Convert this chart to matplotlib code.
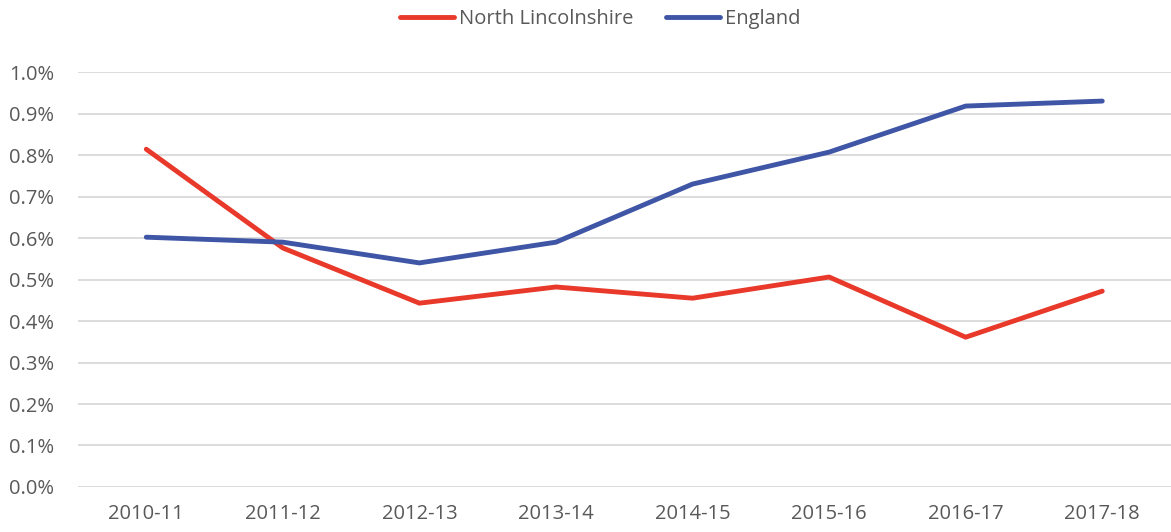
import matplotlib
matplotlib.use("Agg")
import matplotlib.pyplot as plt
from matplotlib.ticker import FuncFormatter

years = ["2010-11", "2011-12", "2012-13", "2013-14", "2014-15", "2015-16", "2016-17", "2017-18"]
north_lincs = [0.814, 0.576, 0.443, 0.482, 0.455, 0.506, 0.361, 0.472]
england = [0.602, 0.590, 0.540, 0.590, 0.730, 0.807, 0.918, 0.930]

plt.rcParams["font.family"] = ["Open Sans", "DejaVu Sans"]
text_col = "#595959"

fig = plt.figure(figsize=(11.71, 5.32), dpi=100)
ax = fig.add_axes([0.0666, 0.0846, 0.933, 0.780])

x = range(len(years))
ax.plot(x, north_lincs, color="#E8392B", lw=3.5, label="North Lincolnshire", solid_capstyle="round")
ax.plot(x, england, color="#3F55A5", lw=3.5, label="England", solid_capstyle="round")

ax.set_xlim(-0.5, len(years) - 0.5)
ax.set_ylim(0, 1.0)
ax.set_yticks([i / 10 for i in range(11)])
ax.yaxis.set_major_formatter(FuncFormatter(lambda v, p: f"{v:.1f}%"))
ax.set_xticks(list(x))
ax.set_xticklabels(years)
ax.grid(axis="y", color="#D9D9D9", lw=1.3)
ax.set_axisbelow(True)
for s in ax.spines.values():
    s.set_visible(False)
ax.tick_params(length=0, labelsize=14.5, colors=text_col)
ax.tick_params(axis="y", pad=17)
ax.tick_params(axis="x", pad=12)

leg = ax.legend(loc="center", bbox_to_anchor=(0.478, 1.128), ncol=2, frameon=False,
                fontsize=14.5, handlelength=2.7, handletextpad=0.25, columnspacing=1.6)
for t in leg.get_texts():
    t.set_color(text_col)

fig.savefig("out.png", dpi=100)
